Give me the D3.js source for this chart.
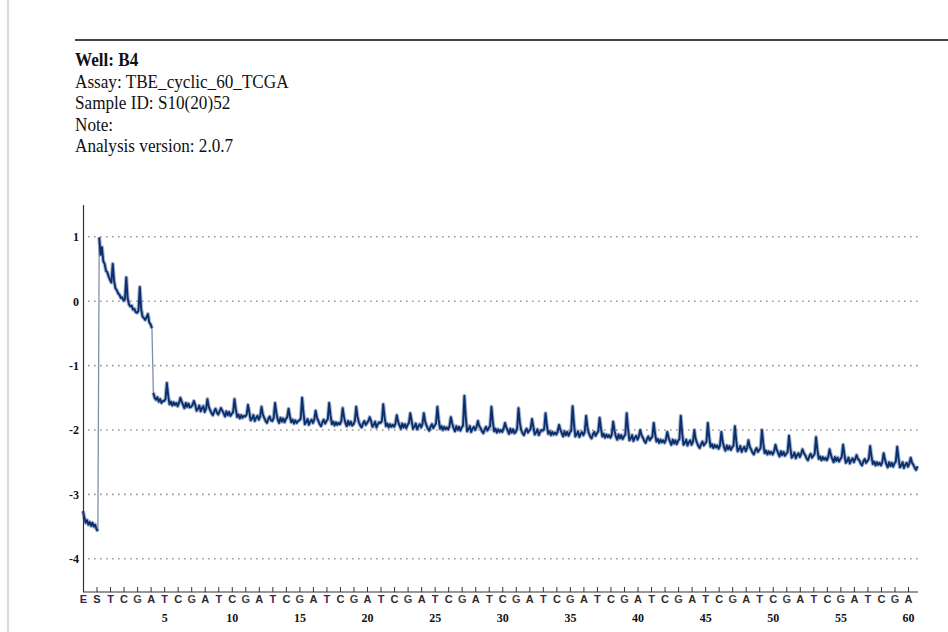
<!DOCTYPE html>
<html>
<head>
<meta charset="utf-8">
<script src="https://cdn.jsdelivr.net/npm/d3@7"></script>
<style>
  html, body { margin: 0; padding: 0; background: #fff; }
  svg { display: block; }
</style>
</head>
<body>
<svg id="chart" width="948" height="632"></svg>
<script>
// Run information printed above the pyrogram
const headerLines = [
  "Well: B4",
  "Assay: TBE_cyclic_60_TCGA",
  "Sample ID: S10(20)52",
  "Note:",
  "Analysis version: 2.0.7"
];

// Signal axis ticks
const yTickValues = [1, 0, -1, -2, -3, -4];

// Dispensation order: enzyme, substrate, then the cyclic TCGA program
const dispensations = [
  "E", "S",
  "T", "C", "G", "A", "T", "C", "G", "A", "T", "C", "G", "A",
  "T", "C", "G", "A", "T", "C", "G", "A", "T", "C", "G", "A",
  "T", "C", "G", "A", "T", "C", "G", "A", "T", "C", "G", "A",
  "T", "C", "G", "A", "T", "C", "G", "A", "T", "C", "G", "A",
  "T", "C", "G", "A", "T", "C", "G", "A", "T", "C", "G", "A"
];

// Dispensation numbers printed under the letters
const numberedDispensations = [5, 10, 15, 20, 25, 30, 35, 40, 45, 50, 55, 60];

// Raw signal, one row per dispensation slot, sampled every tenth of a slot
const traceStep = 0.1;
const traceRows = [
  [-3.26, -3.36, -3.44, -3.40, -3.47, -3.43, -3.49, -3.44, -3.50, -3.47],
  [-3.54, -3.57, 0.99, 0.72, 0.84, 0.62, 0.58, 0.47, 0.45, 0.38],
  [0.33, 0.29, 0.58, 0.31, 0.20, 0.17, 0.12, 0.10, 0.05, 0.06],
  [0.01, 0.03, 0.37, 0.05, -0.05, -0.08, -0.07, -0.13, -0.12, -0.17],
  [-0.18, -0.15, 0.22, -0.12, -0.24, -0.26, -0.29, -0.25, -0.20, -0.33],
  [-0.36, -0.42, -1.42, -1.50, -1.53, -1.49, -1.56, -1.52, -1.58, -1.55],
  [-1.55, -1.52, -1.27, -1.47, -1.60, -1.56, -1.62, -1.57, -1.61, -1.58],
  [-1.63, -1.58, -1.50, -1.56, -1.61, -1.66, -1.58, -1.64, -1.59, -1.65],
  [-1.64, -1.61, -1.55, -1.61, -1.70, -1.67, -1.62, -1.71, -1.66, -1.63],
  [-1.72, -1.67, -1.52, -1.64, -1.69, -1.74, -1.77, -1.71, -1.67, -1.73],
  [-1.76, -1.71, -1.66, -1.70, -1.74, -1.79, -1.71, -1.77, -1.72, -1.78],
  [-1.75, -1.72, -1.52, -1.68, -1.80, -1.76, -1.82, -1.77, -1.81, -1.78],
  [-1.79, -1.76, -1.61, -1.73, -1.85, -1.82, -1.77, -1.86, -1.81, -1.78],
  [-1.84, -1.79, -1.64, -1.76, -1.81, -1.86, -1.89, -1.83, -1.79, -1.85],
  [-1.86, -1.81, -1.58, -1.74, -1.84, -1.89, -1.81, -1.87, -1.82, -1.88],
  [-1.83, -1.80, -1.67, -1.79, -1.88, -1.84, -1.90, -1.85, -1.89, -1.86],
  [-1.85, -1.82, -1.50, -1.73, -1.91, -1.88, -1.83, -1.92, -1.87, -1.84],
  [-1.89, -1.84, -1.70, -1.81, -1.86, -1.91, -1.94, -1.88, -1.84, -1.90],
  [-1.86, -1.83, -1.58, -1.77, -1.91, -1.87, -1.93, -1.88, -1.92, -1.89],
  [-1.91, -1.86, -1.66, -1.80, -1.89, -1.94, -1.86, -1.92, -1.87, -1.93],
  [-1.91, -1.86, -1.64, -1.80, -1.88, -1.93, -1.96, -1.90, -1.86, -1.92],
  [-1.89, -1.86, -1.80, -1.86, -1.95, -1.92, -1.87, -1.96, -1.91, -1.88],
  [-1.89, -1.86, -1.60, -1.80, -1.94, -1.90, -1.96, -1.91, -1.95, -1.92],
  [-1.95, -1.90, -1.77, -1.87, -1.93, -1.98, -1.90, -1.96, -1.91, -1.97],
  [-1.92, -1.89, -1.74, -1.86, -1.98, -1.95, -1.90, -1.99, -1.94, -1.91],
  [-1.96, -1.91, -1.74, -1.87, -1.93, -1.98, -2.01, -1.95, -1.91, -1.97],
  [-1.93, -1.90, -1.64, -1.84, -1.98, -1.94, -2.00, -1.95, -1.99, -1.96],
  [-1.99, -1.94, -1.80, -1.90, -1.97, -2.02, -1.94, -2.00, -1.95, -2.01],
  [-1.96, -1.93, -1.47, -1.80, -2.02, -1.99, -1.94, -2.03, -1.98, -1.95],
  [-2.00, -1.95, -1.86, -1.94, -1.97, -2.02, -2.05, -1.99, -1.95, -2.01],
  [-1.97, -1.94, -1.64, -1.87, -2.02, -1.98, -2.04, -1.99, -2.03, -2.00],
  [-2.03, -1.98, -1.89, -1.96, -2.01, -2.06, -1.98, -2.04, -1.99, -2.05],
  [-2.03, -1.98, -1.66, -1.89, -2.00, -2.05, -2.08, -2.02, -1.98, -2.04],
  [-2.01, -1.98, -1.83, -1.95, -2.07, -2.04, -1.99, -2.08, -2.03, -2.00],
  [-2.01, -1.98, -1.74, -1.93, -2.06, -2.02, -2.08, -2.03, -2.07, -2.04],
  [-2.07, -2.02, -1.92, -2.00, -2.05, -2.10, -2.02, -2.08, -2.03, -2.09],
  [-2.04, -2.01, -1.63, -1.90, -2.10, -2.07, -2.02, -2.11, -2.06, -2.03],
  [-2.08, -2.03, -1.78, -1.96, -2.05, -2.10, -2.13, -2.07, -2.03, -2.09],
  [-2.05, -2.02, -1.81, -1.98, -2.10, -2.06, -2.12, -2.07, -2.11, -2.08],
  [-2.12, -2.07, -1.87, -2.01, -2.10, -2.15, -2.07, -2.13, -2.08, -2.14],
  [-2.10, -2.07, -1.74, -1.98, -2.16, -2.13, -2.08, -2.17, -2.12, -2.09],
  [-2.15, -2.10, -2.00, -2.08, -2.12, -2.17, -2.20, -2.14, -2.10, -2.16],
  [-2.13, -2.10, -1.89, -2.06, -2.18, -2.14, -2.20, -2.15, -2.19, -2.16],
  [-2.20, -2.15, -2.03, -2.12, -2.18, -2.23, -2.15, -2.21, -2.16, -2.22],
  [-2.17, -2.14, -1.78, -2.04, -2.23, -2.20, -2.15, -2.24, -2.19, -2.16],
  [-2.23, -2.18, -2.00, -2.14, -2.20, -2.25, -2.28, -2.22, -2.18, -2.24],
  [-2.21, -2.18, -1.89, -2.11, -2.26, -2.22, -2.28, -2.23, -2.27, -2.24],
  [-2.29, -2.24, -2.03, -2.18, -2.27, -2.32, -2.24, -2.30, -2.25, -2.31],
  [-2.27, -2.24, -1.94, -2.16, -2.33, -2.30, -2.25, -2.34, -2.29, -2.26],
  [-2.33, -2.28, -2.16, -2.26, -2.30, -2.35, -2.38, -2.32, -2.28, -2.34],
  [-2.31, -2.28, -2.00, -2.21, -2.36, -2.32, -2.38, -2.33, -2.37, -2.34],
  [-2.38, -2.33, -2.23, -2.31, -2.36, -2.41, -2.33, -2.39, -2.34, -2.40],
  [-2.37, -2.34, -2.09, -2.28, -2.43, -2.40, -2.35, -2.44, -2.39, -2.36],
  [-2.42, -2.37, -2.30, -2.36, -2.39, -2.44, -2.47, -2.41, -2.37, -2.43],
  [-2.40, -2.37, -2.11, -2.31, -2.45, -2.41, -2.47, -2.42, -2.46, -2.43],
  [-2.47, -2.42, -2.30, -2.39, -2.45, -2.50, -2.42, -2.48, -2.43, -2.49],
  [-2.45, -2.42, -2.23, -2.38, -2.51, -2.48, -2.43, -2.52, -2.47, -2.44],
  [-2.50, -2.45, -2.39, -2.45, -2.47, -2.52, -2.55, -2.49, -2.45, -2.51],
  [-2.48, -2.45, -2.25, -2.41, -2.53, -2.49, -2.55, -2.50, -2.54, -2.51],
  [-2.55, -2.50, -2.36, -2.46, -2.53, -2.58, -2.50, -2.56, -2.51, -2.57],
  [-2.52, -2.49, -2.26, -2.44, -2.58, -2.55, -2.50, -2.59, -2.54, -2.51],
  [-2.57, -2.52, -2.43, -2.51, -2.54, -2.59, -2.62, -2.56]
];

const svg = d3.select("#chart");

const x = d3.scaleLinear().domain([0, dispensations.length - 1]).range([83, 908]);
const y = d3.scaleLinear().domain([-4.5, 1.5]).range([591, 204.6]);

// Page furniture: left margin rule and the rule above the header
svg.append("line")
  .attr("x1", 8).attr("x2", 8).attr("y1", 0).attr("y2", 632)
  .attr("stroke", "#cfcfcf").attr("stroke-width", 1.5);
svg.append("line")
  .attr("x1", 75).attr("x2", 948).attr("y1", 40).attr("y2", 40)
  .attr("stroke", "#444").attr("stroke-width", 2.2);

// Header block
const header = svg.append("g").attr("transform", "translate(75,0) scale(0.88,1)");
header.selectAll("text")
  .data(headerLines)
  .join("text")
  .attr("x", 0)
  .attr("y", (d, i) => 66.5 + i * 21.5)
  .attr("font-family", "'Liberation Serif', 'Times New Roman', serif")
  .attr("font-size", 19.5)
  .attr("font-weight", (d, i) => i === 0 ? "bold" : "normal")
  .attr("fill", "#111")
  .text(d => d);

// Dotted horizontal gridlines
svg.append("g")
  .selectAll("line")
  .data(yTickValues)
  .join("line")
  .attr("x1", 88).attr("x2", 918)
  .attr("y1", d => y(d)).attr("y2", d => y(d))
  .attr("stroke", "#999")
  .attr("stroke-width", 1.6)
  .attr("stroke-dasharray", "1.6,4.4");

// Signal trace: continuous runs drawn as a dense band, large steps as thin connectors
const points = traceRows.flatMap((row, k) => row.map((v, j) => ({ t: k + j * traceStep, v })));
const runs = [[points[0]]];
const jumps = [];
for (let i = 1; i < points.length; i++) {
  if (Math.abs(points[i].v - points[i - 1].v) > 0.8) {
    jumps.push([points[i - 1], points[i]]);
    runs.push([points[i]]);
  } else {
    runs[runs.length - 1].push(points[i]);
  }
}
const line = d3.line().x(d => x(d.t)).y(d => y(d.v));
const traceG = svg.append("g");
traceG.selectAll("path.jump")
  .data(jumps)
  .join("path")
  .attr("class", "jump")
  .attr("d", line)
  .attr("fill", "none")
  .attr("stroke", "#8190aa")
  .attr("stroke-width", 1.3);
traceG.selectAll("path.halo")
  .data(runs)
  .join("path")
  .attr("class", "halo")
  .attr("d", line)
  .attr("fill", "none")
  .attr("stroke", "#6f84aa")
  .attr("stroke-opacity", 0.6)
  .attr("stroke-width", 4)
  .attr("stroke-linejoin", "round");
traceG.selectAll("path.run")
  .data(runs)
  .join("path")
  .attr("class", "run")
  .attr("d", line)
  .attr("fill", "none")
  .attr("stroke", "#0a2f6e")
  .attr("stroke-width", 1.9)
  .attr("stroke-linejoin", "round");

// Left axis
const yAxis = svg.append("g")
  .attr("transform", "translate(83,0)")
  .call(d3.axisLeft(y).tickValues(yTickValues).tickSize(0).tickPadding(4).tickFormat(d => String(d)));
yAxis.select(".domain").attr("stroke", "#333").attr("stroke-width", 1.2);
yAxis.selectAll("text")
  .attr("font-family", "'Liberation Serif', 'Times New Roman', serif")
  .attr("font-weight", "bold")
  .attr("font-size", 12)
  .attr("fill", "#111");

// Bottom axis with dispensation letters
const letterColor = { E: "#3d2257", S: "#26263a", T: "#4a1d5c", C: "#2e2e2e", G: "#464646", A: "#2a2a2a" };
const xAxis = svg.append("g")
  .attr("transform", "translate(0,592)")
  .call(d3.axisBottom(x)
    .tickValues(dispensations.map((d, i) => i))
    .tickSizeInner(-5).tickSizeOuter(0).tickPadding(3.5)
    .tickFormat(i => dispensations[i]));
xAxis.select(".domain").remove();
xAxis.selectAll(".tick line").attr("stroke", "#333");
xAxis.selectAll("text")
  .attr("font-family", "'Liberation Sans', Arial, sans-serif")
  .attr("font-weight", "bold")
  .attr("font-size", 11)
  .attr("fill", i => letterColor[dispensations[i]]);
xAxis.append("line")
  .attr("x1", 83).attr("x2", 918).attr("y1", 0).attr("y2", 0)
  .attr("stroke", "#333").attr("stroke-width", 1.2);

// Dispensation numbers
const nAxis = svg.append("g")
  .attr("transform", "translate(0,592)")
  .call(d3.axisBottom(x)
    .tickValues(numberedDispensations.map(n => n + 1))
    .tickSize(0).tickPadding(21.5)
    .tickFormat(k => String(k - 1)));
nAxis.select(".domain").remove();
nAxis.selectAll("text")
  .attr("font-family", "'Liberation Serif', 'Times New Roman', serif")
  .attr("font-weight", "bold")
  .attr("font-size", 12)
  .attr("fill", "#111");
</script>
</body>
</html>
